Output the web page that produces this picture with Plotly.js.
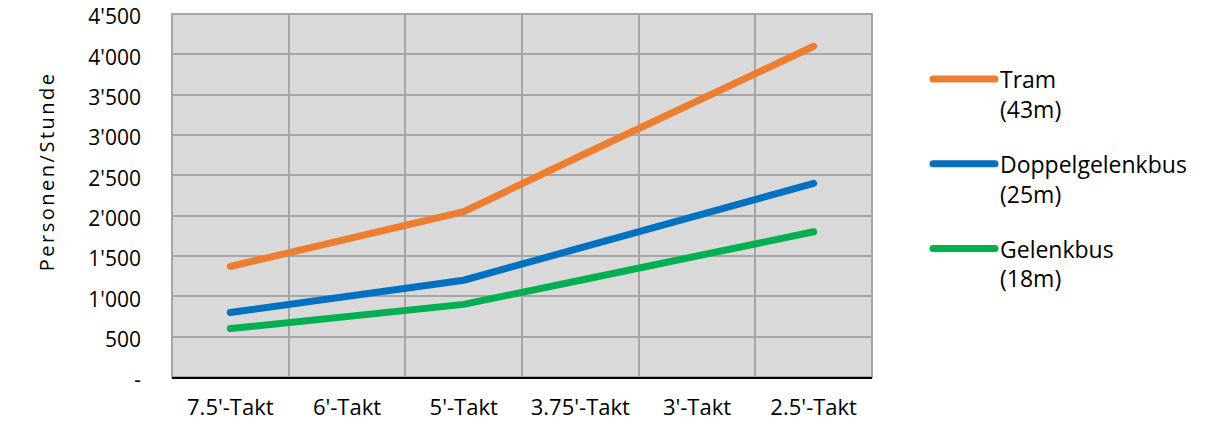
<!DOCTYPE html>
<html>
<head>
<meta charset="utf-8">
<script src="https://cdn.plot.ly/plotly-3.0.1.min.js"></script>
<style>
body{margin:0;background:#fff;}
#chart{width:1206px;height:425px;}
.js-line, .legendlines path{stroke-linecap:round;}
.annotation-text{letter-spacing:2.5px;}
</style>
</head>
<body>
<div id="chart"></div>
<script>
const categories = ["7.5'-Takt", "6'-Takt", "5'-Takt", "3.75'-Takt", "3'-Takt", "2.5'-Takt"];
const tram = [1370, 1710, 2050, 2740, 3420, 4100];
const doppelgelenkbus = [800, 1000, 1200, 1600, 2000, 2400];
const gelenkbus = [600, 750, 900, 1200, 1500, 1800];
const seriesNames = ["Tram<br>(43m)", "Doppelgelenkbus<br>(25m)", "Gelenkbus<br>(18m)"];
const yTickVals = [0, 500, 1000, 1500, 2000, 2500, 3000, 3500, 4000, 4500];
const yTickText = ["-", "500", "1'000", "1'500", "2'000", "2'500", "3'000", "3'500", "4'000", "4'500"];
const yAxisTitle = "Personen/Stunde";

const colors = ["#ED7D31", "#0070C0", "#00B050"];
const seriesValues = [tram, doppelgelenkbus, gelenkbus];
const FONT = "Open Sans, sans-serif";

const traces = seriesValues.map((vals, i) => ({
  type: "scatter",
  mode: "lines",
  x: categories,
  y: vals,
  name: seriesNames[i],
  legendgroup: "g" + i,
  line: {color: colors[i], width: 7},
  hoverinfo: "skip"
}));

const layout = {
  width: 1206,
  height: 425,
  margin: {l: 172, r: 334, t: 14, b: 48, autoexpand: false},
  paper_bgcolor: "#ffffff",
  plot_bgcolor: "#d9d9d9",
  font: {family: FONT, size: 22, color: "#000"},
  xaxis: {
    type: "category",
    range: [-0.5, 5.5],
    tickson: "boundaries",
    tickangle: 0,
    showgrid: true,
    gridcolor: "#a6a6a6",
    gridwidth: 2,
    showline: true,
    linecolor: "#000",
    linewidth: 2,
    mirror: false,
    ticks: "",
    ticklabelstandoff: 10,
    ticklabeloverflow: "allow",
    tickfont: {family: FONT, size: 22},
    zeroline: false,
    automargin: false,
    fixedrange: true
  },
  yaxis: {
    range: [0, 4500],
    tickvals: yTickVals,
    ticktext: yTickText,
    showgrid: true,
    gridcolor: "#a6a6a6",
    gridwidth: 2,
    showline: false,
    zeroline: false,
    ticks: "",
    ticklabelstandoff: 30,
    ticklabelshift: 3,
    ticklabeloverflow: "allow",
    tickfont: {family: FONT, size: 21},
    automargin: false,
    fixedrange: true
  },
  annotations: [
    {text: yAxisTitle, xref: "paper", yref: "paper", x: -0.18, y: 0.567,
     xanchor: "center", yanchor: "middle", textangle: -90, showarrow: false,
     font: {family: FONT, size: 20, color: "#000"}}
  ],
  shapes: [
    {type: "rect", xref: "paper", yref: "paper", x0: 0, x1: 1, y0: 0, y1: 1,
     line: {color: "#a6a6a6", width: 2}, layer: "below"}
  ],
  showlegend: true,
  legend: {
    x: 1.08, xanchor: "left",
    y: 0.88, yanchor: "top",
    bgcolor: "rgba(0,0,0,0)",
    font: {family: FONT, size: 23},
    valign: "top",
    tracegroupgap: 22,
    itemwidth: 62
  }
};

Plotly.newPlot("chart", traces, layout, {displayModeBar: false, staticPlot: true});
</script>
</body>
</html>
